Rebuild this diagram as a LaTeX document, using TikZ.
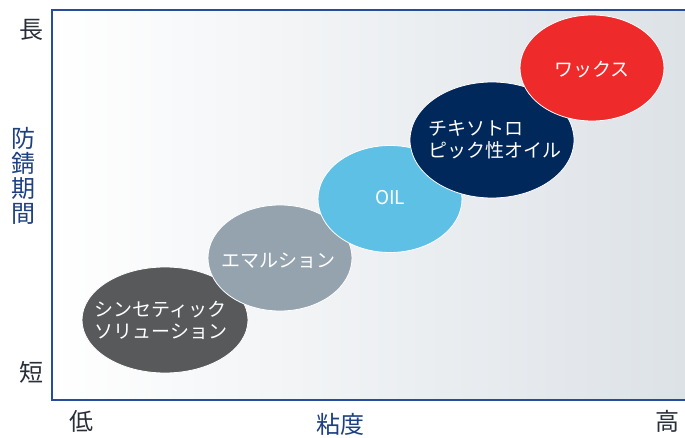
\documentclass[tikz,border=0pt]{standalone}
\usepackage{fontspec}
\setmainfont{Noto Sans CJK JP}
\usepackage{xcolor}
\usetikzlibrary{shapes.geometric}
\definecolor{axisblue}{RGB}{40,76,156}
\definecolor{labelblue}{RGB}{30,64,128}
\definecolor{labeldark}{RGB}{40,46,56}
\definecolor{bgright}{RGB}{221,226,231}
\definecolor{synthgray}{RGB}{88,89,91}
\definecolor{emulgray}{RGB}{148,163,173}
\definecolor{oilblue}{RGB}{95,192,230}
\definecolor{thixonavy}{RGB}{0,40,90}
\definecolor{waxred}{RGB}{238,42,42}

\begin{document}
\begin{tikzpicture}[x=1pt,y=-1pt,
		bubble/.style={ellipse,draw=white,line width=0.8pt,inner sep=0pt},
		bubtext/.style={text=white,inner sep=0pt,align=left,font=\fontsize{19}{22}\selectfont},
		axlabel/.style={font=\fontsize{24}{25}\selectfont}]
		\useasboundingbox (0,0) rectangle (685,438);
		% background and frame
		\shade[left color=white,right color=bgright] (52,10) rectangle (685,400);
		\draw[axisblue,line width=2pt] (685,10) -- (52,10) -- (52,400) -- (685,400);
		% axis labels
		\node[axlabel,text=labeldark] (long) at (31,30) {長};
		\node[axlabel,text=labeldark] (short) at (31,372) {短};
		\node[axlabel,text=labelblue,align=center] (period) at (23,176) {防\\錆\\期\\間};
		\node[axlabel,text=labeldark] (low) at (81,421) {低};
		\node[axlabel,text=labelblue] (visc) at (340,424) {粘度};
		\node[axlabel,text=labeldark] (high) at (667,421) {高};
		% bubbles
		\node[bubble,fill=synthgray,minimum width=166,minimum height=106] (synth) at (165,320) {};
		\node[bubtext] (synthtext) at (161,320) {シンセティック\\ソリューション};
		\node[bubble,fill=emulgray,minimum width=144,minimum height=106] (emul) at (280,258) {};
		\node[bubtext] (emultext) at (278,261) {エマルション};
		\node[bubble,fill=oilblue,minimum width=144,minimum height=107] (oil) at (390,199) {};
		\node[bubtext] (oiltext) at (390,198) {OIL};
		\node[bubble,fill=thixonavy,minimum width=164,minimum height=116] (thixo) at (492,140) {};
		\node[bubtext] (thixotext) at (495,140) {チキソトロ\\ピック性オイル};
		\node[bubble,fill=waxred,minimum width=144,minimum height=106] (wax) at (592,68) {};
		\node[bubtext] (waxtext) at (592,70) {ワックス};
	\end{tikzpicture}
\end{document}
